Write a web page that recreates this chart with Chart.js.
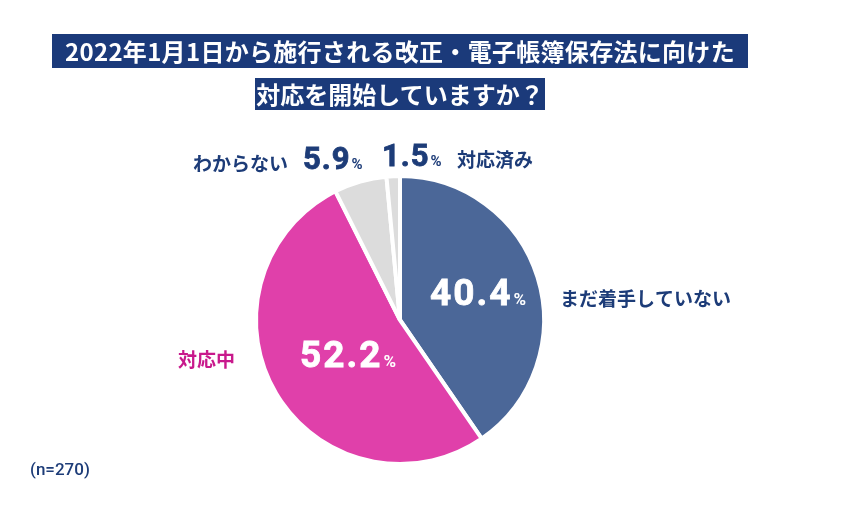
<!DOCTYPE html>
<html lang="ja">
<head>
<meta charset="utf-8">
<script src="https://cdn.jsdelivr.net/npm/chart.js@4/dist/chart.umd.min.js"></script>
<style>
  body { margin: 0; background: #fff; }
  #wrap { position: relative; width: 856px; height: 505px; overflow: hidden; }
  .ttl {
    position: absolute; background: #1b3a7a; color: #fff;
    font-family: "Noto Sans CJK JP", sans-serif; font-weight: bold;
    font-size: 24px; line-height: 34px; text-align: center; white-space: nowrap;
  }
  #t1 { left: 52px; top: 34px; width: 696px; height: 34px; letter-spacing: 0.3px; }
  #t2 { left: 255px; top: 78px; width: 290px; height: 32px; line-height: 32px; }
  #n { position: absolute; left: 30px; top: 459px; color: #1d3c78;
       font-family: Roboto, sans-serif; font-size: 17px; font-weight: 500; }
</style>
</head>
<body>
<div id="wrap">
  <canvas id="myChart" width="856" height="505"></canvas>
  <div class="ttl" id="t1">2022年1月1日から施行される改正・電子帳簿保存法に向けた</div>
  <div class="ttl" id="t2">対応を開始していますか？</div>
  <div id="n">(n=270)</div>
</div>
<script>
// データ
const categories = ["まだ着手していない", "対応中", "わからない", "対応済み"];
const values = [40.4, 52.2, 5.9, 1.5];
const sliceColors = ["#4b6798", "#e040aa", "#dcdcdc", "#dcdcdc"];

// ラベルの置き場所（円の中心からの相対位置）
const labelPlace = [
  { vx: 30, vy: -15, vColor: "#fff", vSize: 37, sp: 2, pSize: 17, nx: 160, ny: -14, nColor: "#1d3c78" },
  { vx: -100, vy: 47, vColor: "#fff", vSize: 37, sp: 2, pSize: 17, nx: -222, ny: 47, nColor: "#c8198c" },
  { vx: -97, vy: -151, vColor: "#1d3c78", vSize: 31, sp: 1, pSize: 15, nx: -207, ny: -149, nColor: "#1d3c78" },
  { vx: -18, vy: -154, vColor: "#1d3c78", vSize: 31, sp: 1, pSize: 15, nx: 57, ny: -153, nColor: "#1d3c78" }
];

const labelPlugin = {
  id: 'sliceLabels',
  afterDraw(chart) {
    const ctx = chart.ctx;
    const arcs = chart.getDatasetMeta(0).data;
    const cx = arcs[0].x, cy = arcs[0].y;
    ctx.save();
    ctx.textBaseline = 'alphabetic';
    ctx.textAlign = 'left';
    values.forEach((v, i) => {
      const p = labelPlace[i];
      // 数値（少し太らせる）
      ctx.fillStyle = p.vColor;
      ctx.strokeStyle = p.vColor;
      ctx.lineWidth = 0.8;
      ctx.font = "bold " + p.vSize + "px Roboto, sans-serif";
      ctx.letterSpacing = p.sp + "px";
      const txt = v.toFixed(1);
      ctx.fillText(txt, cx + p.vx, cy + p.vy);
      ctx.strokeText(txt, cx + p.vx, cy + p.vy);
      const w = ctx.measureText(txt).width;
      ctx.font = "bold " + p.pSize + "px Roboto, sans-serif";
      ctx.letterSpacing = "0px";
      ctx.fillText("%", cx + p.vx + w + 1, cy + p.vy);
      // カテゴリ名
      ctx.fillStyle = p.nColor;
      ctx.font = "bold 19px 'Noto Sans CJK JP', sans-serif";
      ctx.fillText(categories[i], cx + p.nx, cy + p.ny);
    });
    ctx.restore();
  }
};

const data = {
  labels: categories,
  datasets: [{
    data: values,
    backgroundColor: sliceColors,
    borderColor: "#fff",
    borderWidth: 4
  }]
};

const config = {
  type: "pie",
  data: data,
  options: {
    responsive: false,
    animation: false,
    devicePixelRatio: 1,
    layout: { padding: { left: 254, right: 310, top: 174, bottom: 39 } },
    plugins: {
      legend: { display: false },
      tooltip: { enabled: false },
      title: { display: false }
    }
  },
  plugins: [labelPlugin]
};

const ctx = document.getElementById('myChart').getContext('2d');
const myChart = new Chart(ctx, config);
</script>
</body>
</html>
